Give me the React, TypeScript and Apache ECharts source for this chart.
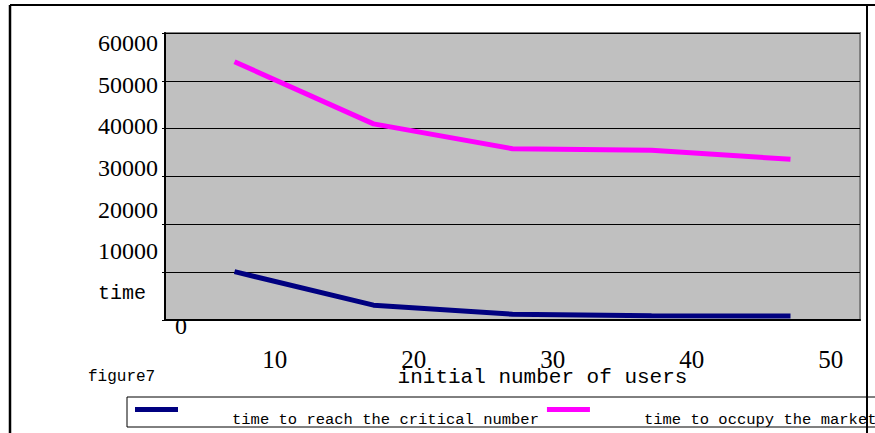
import React, { useEffect, useRef } from "react";
import * as echarts from "echarts";

const categories = ["10", "20", "30", "40", "50"];
const criticalTime = [10100, 3100, 1200, 900, 850];
const occupyTime = [54000, 41000, 35800, 35500, 33600];
const yTickLabels = ["time", "10000", "20000", "30000", "40000", "50000", "60000"];
const seriesNames = ["time to reach the critical number", "time to occupy the market"];

const SERIF = "Liberation Serif";
const MONO = "Liberation Mono";

export default function App() {
  const ref = useRef<HTMLDivElement>(null);
  useEffect(() => {
    document.body.style.margin = "0";
    const chart = echarts.init(ref.current!, null, { renderer: "svg" });
    const option: any = {
      animation: false,
      backgroundColor: "#fff",
      grid: {
        left: 165,
        right: 15,
        top: 33,
        bottom: 113,
        show: true,
        backgroundColor: "#C0C0C0",
        borderColor: "#808080",
        borderWidth: 2,
      },
      xAxis: [
        {
          type: "category",
          data: categories,
          boundaryGap: true,
          axisLine: { lineStyle: { color: "#000", width: 2 } },
          axisTick: { inside: true, length: 8, lineStyle: { color: "#000", width: 1 } },
          axisLabel: { show: false },
          splitLine: { show: false },
        },
        {
          type: "value",
          min: 0,
          max: 5,
          position: "bottom",
          axisLine: { show: false },
          axisTick: { show: false },
          splitLine: { show: false },
          axisLabel: {
            customValues: categories.map((_, i) => i + 0.79),
            formatter: (v: number) => categories[Math.floor(v)],
            margin: 27,
            fontFamily: SERIF,
            fontSize: 25,
            color: "#000",
          },
          name: "initial number of users",
          nameLocation: "middle",
          nameGap: 47,
          nameMoveOverlap: false,
          nameTextStyle: {
            fontFamily: MONO,
            fontSize: 21,
            color: "#000",
            verticalAlign: "top",
            padding: [0, 0, 0, 60],
          },
        },
      ],
      yAxis: [
        {
          type: "value",
          min: 0,
          max: 60000,
          interval: 10000,
          axisLine: { show: true, lineStyle: { color: "#000", width: 2 } },
          axisTick: { show: true, length: 3, lineStyle: { color: "#000" } },
          axisLabel: { show: false },
          splitLine: { show: true, lineStyle: { color: "#000", width: 1 } },
        },
        {
          type: "value",
          min: -0.648,
          max: 6.24,
          position: "left",
          axisLine: { show: false },
          axisTick: { show: false },
          splitLine: { show: false },
          axisLabel: {
            customValues: yTickLabels.map((_, i) => i),
            formatter: (v: number) => {
              const k = Math.round(v);
              return k === 0 ? "{t|" + yTickLabels[k] + "}" : "{n|" + yTickLabels[k] + "}";
            },
            align: "left",
            margin: 67,
            rich: {
              t: { fontFamily: MONO, fontSize: 20, color: "#000" },
              n: { fontFamily: SERIF, fontSize: 24, color: "#000" },
            },
          },
        },
      ],
      legend: {
        left: 135,
        top: 407,
        width: 900,
        orient: "horizontal",
        data: seriesNames,
        icon: "rect",
        itemWidth: 43,
        itemHeight: 5,
        itemGap: 8,
        padding: 0,
        borderWidth: 0,
        formatter: (name: string) => "{a|" + name + "}",
        textStyle: {
          fontFamily: MONO,
          fontSize: 15.5,
          color: "#000",
          rich: {
            a: {
              fontFamily: MONO,
              fontSize: 15.5,
              color: "#000",
              padding: [20, 0, 0, 49],
            },
          },
        },
      },
      series: [
        {
          name: seriesNames[0],
          type: "line",
          data: criticalTime,
          xAxisIndex: 0,
          yAxisIndex: 0,
          showSymbol: false,
          symbol: "none",
          color: "#000080",
          lineStyle: { color: "#000080", width: 5 },
        },
        {
          name: seriesNames[1],
          type: "line",
          data: occupyTime,
          xAxisIndex: 0,
          yAxisIndex: 0,
          showSymbol: false,
          symbol: "none",
          color: "#FF00FF",
          lineStyle: { color: "#FF00FF", width: 5 },
        },
      ],
      graphic: [
        {
          type: "rect",
          shape: { x: 127, y: 397, width: 800, height: 30 },
          style: { fill: "#fff", stroke: "#000", lineWidth: 1 },
          z: 1,
        },
        { type: "line", shape: { x1: 10, y1: 5, x2: 875, y2: 5 }, style: { stroke: "#000", lineWidth: 2 }, z: 100 },
        { type: "line", shape: { x1: 10, y1: 5, x2: 10, y2: 433 }, style: { stroke: "#000", lineWidth: 2.5 }, z: 100 },
        { type: "line", shape: { x1: 867, y1: 5, x2: 867, y2: 433 }, style: { stroke: "#000", lineWidth: 2 }, z: 100 },
        {
          type: "text",
          left: 88,
          top: 369,
          style: { text: "figure7", fontFamily: MONO, fontSize: 16, fill: "#000" },
          z: 100,
        },
        {
          type: "text",
          left: 175,
          top: 314,
          style: { text: "0", fontFamily: SERIF, fontSize: 24, fill: "#000" },
          z: 100,
        },
      ],
    };
    chart.setOption(option);
    return () => chart.dispose();
  }, []);
  return <div ref={ref} style={{ width: 875, height: 433 }} />;
}
